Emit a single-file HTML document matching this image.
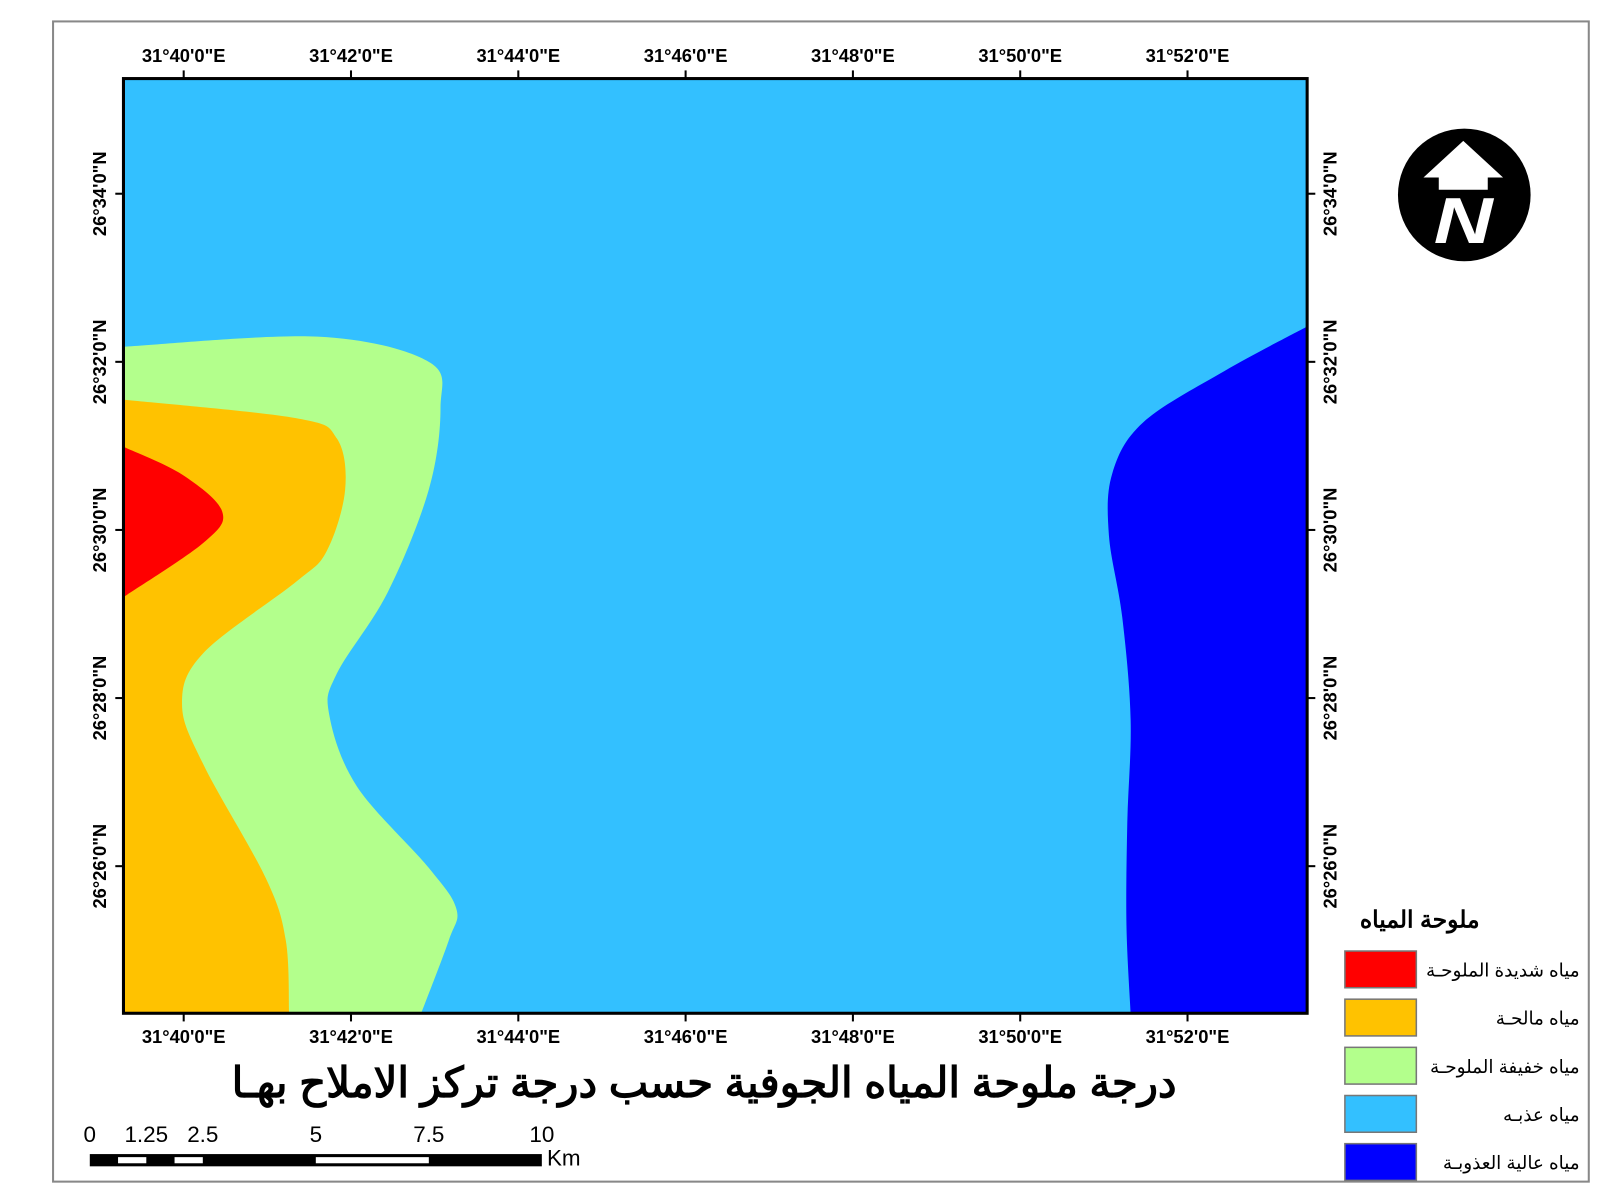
<!DOCTYPE html>
<html><head><meta charset="utf-8">
<style>
html,body{margin:0;padding:0;background:#fff;}
svg{display:block;}
text{font-family:"Liberation Sans","Noto Sans CJK SC",sans-serif;}
</style></head>
<body>
<svg id="map" width="1600" height="1200" viewBox="0 0 1568 1176" preserveAspectRatio="none" xmlns="http://www.w3.org/2000/svg">
  <rect x="52" y="21" width="1505" height="1137" fill="#fff" stroke="#888" stroke-width="2"/>
  <g id="mapArea"></g>
  <g id="axes"></g>
  <g>
    <circle cx="1435" cy="191" r="65" fill="#000"/>
    <polygon points="1434,138 1473,174 1458,174 1458,186 1410,186 1410,174 1395,174" fill="#fff"/>
    <text x="0" y="0" font-size="64" font-weight="bold" font-style="italic" fill="#fff" text-anchor="middle" transform="translate(1434 238) scale(1.25 1)">N</text>
  </g>
  <text x="690" y="1075" font-size="41" font-weight="bold" text-anchor="middle">درجة ملوحة المياه الجوفية حسب درجة تركز الاملاح بهـا</text>
  <g id="scale"></g>
  <g id="legend">
    <text x="1450" y="909" font-size="23" font-weight="bold" text-anchor="end">ملوحة المياه</text>
  </g>
</svg>
<script>
const lonLabels = ["31°40'0\"E","31°42'0\"E","31°44'0\"E","31°46'0\"E","31°48'0\"E","31°50'0\"E","31°52'0\"E"];
const lonMinutes = [40,42,44,46,48,50,52];
const latLabels = ["26°34'0\"N","26°32'0\"N","26°30'0\"N","26°28'0\"N","26°26'0\"N"];
const latMinutes = [34,32,30,28,26];
const greenEdge = [[39.28,32.18],[41.6,32.3],[42.93,32.0],[43.07,31.45],[42.93,30.48],[42.44,29.26],[41.83,28.29],[41.74,27.8],[42.07,26.95],[42.93,25.98],[43.26,25.49],[43.17,25.12],[42.84,24.25]];
const orangeEdge = [[39.28,31.55],[41.34,31.33],[41.83,31.09],[41.93,30.48],[41.71,29.75],[41.34,29.38],[40.24,28.54],[39.98,27.93],[40.24,27.2],[40.98,25.86],[41.22,25.12],[41.26,24.25]];
const redEdge = [[39.28,30.99],[39.98,30.66],[40.46,30.22],[40.24,29.85],[39.28,29.2]];
const blueEdge = [[53.43,32.42],[52.44,31.89],[51.47,31.28],[51.1,30.67],[51.06,29.94],[51.22,28.96],[51.32,27.74],[51.28,26.52],[51.27,25.3],[51.32,24.25]];
const legendLabels = ["مياه شديدة الملوحـة","مياه مالحـة","مياه خفيفة الملوحـة","مياه عذبـه","مياه عالية العذوبـة"];
const legendColors = ["#ff0000","#ffc200","#b3ff8c","#33c0ff","#0000ff"];
const scaleLabels = ["0","1.25","2.5","5","7.5","10"];
const scaleValues = [0,1.25,2.5,5,7.5,10];

const NS="http://www.w3.org/2000/svg";
const X0=121,X1=1281,Y0=77,Y1=993;
const lonMin=39.28,lonMax=53.43,latTop=35.37,latBot=24.25;
const xs=m=>X0+(m-lonMin)/(lonMax-lonMin)*(X1-X0);
const ys=m=>Y0+(latTop-m)/(latTop-latBot)*(Y1-Y0);
function mk(tag,attrs,parent){const e=document.createElementNS(NS,tag);for(const k in attrs)e.setAttribute(k,attrs[k]);parent.appendChild(e);return e;}
function smooth(pts){let d="M"+pts[0][0]+","+pts[0][1];for(let i=0;i<pts.length-1;i++){const p0=pts[i-1]||pts[i],p1=pts[i],p2=pts[i+1],p3=pts[i+2]||p2;
 d+=" C"+(p1[0]+(p2[0]-p0[0])/6)+","+(p1[1]+(p2[1]-p0[1])/6)+" "+(p2[0]-(p3[0]-p1[0])/6)+","+(p2[1]-(p3[1]-p1[1])/6)+" "+p2[0]+","+p2[1];}return d;}
const toPx=a=>a.map(p=>[xs(p[0]),ys(p[1])]);
const ma=document.getElementById('mapArea');
const clip=mk('clipPath',{id:'mc'},mk('defs',{},ma));mk('rect',{x:X0,y:Y0,width:X1-X0,height:Y1-Y0},clip);
const zg=mk('g',{'clip-path':'url(#mc)'},ma);
let el=mk('rect',{x:X0,y:Y0,width:X1-X0,height:Y1-Y0,fill:'#33c0ff'},zg);


function zoneLeft(edge,color,name){const p=toPx(edge);const d=smooth(p)+" L"+X0+","+p[p.length-1][1]+" L"+X0+","+p[0][1]+" Z";
 const e=mk('path',{d:d,fill:color},zg);
 
 }
zoneLeft(greenEdge,'#b3ff8c','slightly-saline-zone');
zoneLeft(orangeEdge,'#ffc200','saline-zone');
zoneLeft(redEdge,'#ff0000','highly-saline-zone');
{const p=toPx(blueEdge);const d=smooth(p)+" L"+(X1+5)+","+p[p.length-1][1]+" L"+(X1+5)+","+p[0][1]+" Z";
 const e=mk('path',{d:d,fill:'#0000ff'},zg);
 
 }
mk('rect',{x:X0,y:Y0,width:X1-X0,height:Y1-Y0,fill:'none',stroke:'#000','stroke-width':3},ma);
const ax=document.getElementById('axes');
lonMinutes.forEach((m,i)=>{const x=xs(m);
 mk('line',{x1:x,y1:Y0,x2:x,y2:Y0-8,stroke:'#000','stroke-width':2},ax);
 mk('line',{x1:x,y1:Y1,x2:x,y2:Y1+8,stroke:'#000','stroke-width':2},ax);
 [61,1022].forEach(y=>{const t=mk('text',{x:x,y:y,'font-size':18,'font-weight':'bold','text-anchor':'middle'},ax);t.textContent=lonLabels[i];
 
 });});
latMinutes.forEach((m,i)=>{const y=ys(m);
 mk('line',{x1:X0,y1:y,x2:X0-8,y2:y,stroke:'#000','stroke-width':2},ax);
 mk('line',{x1:X1,y1:y,x2:X1+8,y2:y,stroke:'#000','stroke-width':2},ax);
 [104,1310].forEach(x=>{const t=mk('text',{x:x,y:y,'font-size':18,'font-weight':'bold','text-anchor':'middle',transform:'rotate(-90 '+x+' '+y+')'},ax);t.textContent=latLabels[i];
 
 });});
const lg=document.getElementById('legend');
legendLabels.forEach((l,i)=>{const y=932+i*47.2;
 const r=mk('rect',{x:1318,y:y,width:70,height:36,fill:legendColors[i],stroke:'#777','stroke-width':1.5},lg);
 
 
 const t=mk('text',{x:1548,y:y+25,'font-size':18,'text-anchor':'end'},lg);t.textContent=l;
 
 });
const sc=document.getElementById('scale');
const sx=v=>88+v/10*443;
mk('rect',{x:88,y:1131,width:443,height:12,fill:'#000'},sc);
[[0.625,1.25],[1.875,2.5],[5,7.5]].forEach(s=>mk('rect',{x:sx(s[0]),y:1134,width:sx(s[1])-sx(s[0]),height:6,fill:'#fff'},sc));
scaleValues.forEach((v,i)=>{const t=mk('text',{x:sx(v),y:1119,'font-size':22,'text-anchor':'middle'},sc);t.textContent=scaleLabels[i];
 
 });
{const t=mk('text',{x:536,y:1142,'font-size':22},sc);t.textContent="Km";
 
 }
</script>
</body></html>
